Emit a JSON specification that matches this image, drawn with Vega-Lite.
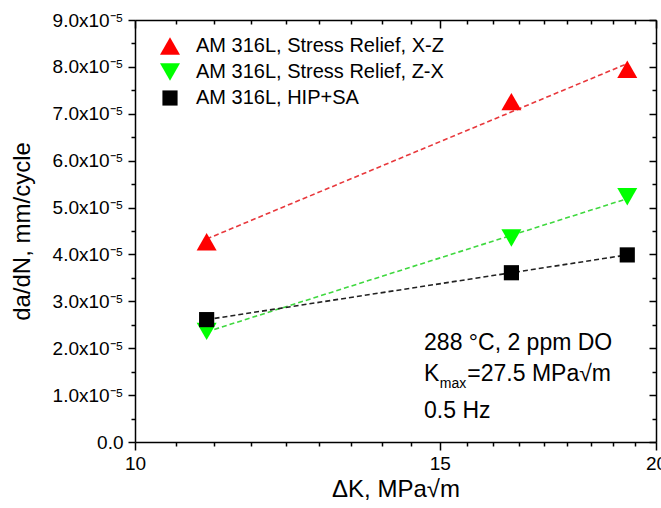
{
  "$schema": "https://vega.github.io/schema/vega-lite/v6.json",
  "width": 521,
  "height": 422,
  "autosize": "none",
  "padding": {"left": 135, "top": 20, "right": 5, "bottom": 66},
  "background": "white",
  "datasets": {
    "rates": [
      {"series": "AM 316L, Stress Relief, X-Z", "dK": 11.0, "dadN": 4.27e-5},
      {"series": "AM 316L, Stress Relief, X-Z", "dK": 16.5, "dadN": 7.26e-5},
      {"series": "AM 316L, Stress Relief, X-Z", "dK": 19.25, "dadN": 7.95e-5},
      {"series": "AM 316L, Stress Relief, Z-X", "dK": 11.0, "dadN": 2.36e-5},
      {"series": "AM 316L, Stress Relief, Z-X", "dK": 16.5, "dadN": 4.35e-5},
      {"series": "AM 316L, Stress Relief, Z-X", "dK": 19.25, "dadN": 5.23e-5},
      {"series": "AM 316L, HIP+SA", "dK": 11.0, "dadN": 2.61e-5},
      {"series": "AM 316L, HIP+SA", "dK": 16.5, "dadN": 3.61e-5},
      {"series": "AM 316L, HIP+SA", "dK": 19.25, "dadN": 3.99e-5}
    ],
    "fits": [
      {"curve": "X-Z fit", "dK": 11.0, "dadN": 4.33e-5},
      {"curve": "X-Z fit", "dK": 19.25, "dadN": 8.07e-5},
      {"curve": "Z-X fit", "dK": 11.0, "dadN": 2.35e-5},
      {"curve": "Z-X fit", "dK": 19.25, "dadN": 5.19e-5},
      {"curve": "HIP+SA fit", "dK": 11.0, "dadN": 2.61e-5},
      {"curve": "HIP+SA fit", "dK": 19.25, "dadN": 3.99e-5}
    ]
  },
  "config": {
    "view": {"stroke": null},
    "font": "Liberation Sans",
    "axis": {
      "grid": false,
      "domainColor": "black",
      "domainWidth": 1.5,
      "tickColor": "black",
      "tickWidth": 1.5,
      "labelColor": "black",
      "labelFont": "Liberation Sans",
      "labelFontSize": 19,
      "titleColor": "black",
      "titleFont": "Liberation Sans",
      "titleFontSize": 24,
      "titleFontWeight": "normal",
      "labelOverlap": false,
      "labelFlush": false
    }
  },
  "layer": [
    {
      "data": {"name": "fits"},
      "mark": {"type": "line", "strokeDash": [5, 3], "strokeWidth": 1.6},
      "encoding": {
        "x": {
          "field": "dK", "type": "quantitative",
          "scale": {"type": "log", "domain": [10, 20], "nice": false, "zero": false},
          "axis": {
            "orient": "bottom",
            "title": "ΔK, MPa√m",
            "titlePadding": 4,
            "values": [10, 10.5556, 11.1111, 11.6667, 12.2222, 12.7778, 13.3333, 13.8889, 14.4444, 15, 15.5556, 16.1111, 16.6667, 17.2222, 17.7778, 18.3333, 18.8889, 19.4444, 20],
            "labelExpr": "(datum.value == 10 || datum.value == 15 || datum.value == 20) ? format(datum.value, 'd') : ''",
            "tickSize": {"condition": {"test": "datum.value == 10 || datum.value == 15 || datum.value == 20", "value": 8}, "value": 4},
            "labelPadding": 4
          }
        },
        "y": {
          "field": "dadN", "type": "quantitative",
          "scale": {"domain": [0, 9e-5], "nice": false},
          "axis": {
            "orient": "left",
            "title": "da/dN, mm/cycle",
            "titlePadding": 18,
            "values": [0, 5e-6, 1e-5, 1.5e-5, 2e-5, 2.5e-5, 3e-5, 3.5e-5, 4e-5, 4.5e-5, 5e-5, 5.5e-5, 6e-5, 6.5e-5, 7e-5, 7.5e-5, 8e-5, 8.5e-5, 9e-5],
            "labelExpr": "round(datum.value * 2e5) % 2 == 0 ? (datum.value == 0 ? '0.0' : format(datum.value * 1e5, '.1f') + 'x10⁻⁵') : ''",
            "tickSize": {"condition": {"test": "round(datum.value * 2e5) % 2 == 0", "value": 7}, "value": 4},
            "labelPadding": 5
          }
        },
        "stroke": {
          "field": "curve", "type": "nominal",
          "scale": {
            "domain": ["X-Z fit", "Z-X fit", "HIP+SA fit"],
            "range": ["#e8383c", "#3fd83f", "#222222"]
          },
          "legend": null
        }
      }
    },
    {
      "data": {"name": "rates"},
      "mark": {"type": "point", "filled": true, "opacity": 1, "strokeWidth": 0},
      "encoding": {
        "x": {
          "field": "dK", "type": "quantitative",
          "axis": {
            "orient": "top",
            "title": null,
            "labels": false,
            "values": [10, 10.5556, 11.1111, 11.6667, 12.2222, 12.7778, 13.3333, 13.8889, 14.4444, 15, 15.5556, 16.1111, 16.6667, 17.2222, 17.7778, 18.3333, 18.8889, 19.4444, 20],
            "tickSize": {"condition": {"test": "datum.value == 10 || datum.value == 15 || datum.value == 20", "value": -8}, "value": -4}
          }
        },
        "y": {
          "field": "dadN", "type": "quantitative",
          "axis": {
            "orient": "right",
            "title": null,
            "labels": false,
            "values": [0, 5e-6, 1e-5, 1.5e-5, 2e-5, 2.5e-5, 3e-5, 3.5e-5, 4e-5, 4.5e-5, 5e-5, 5.5e-5, 6e-5, 6.5e-5, 7e-5, 7.5e-5, 8e-5, 8.5e-5, 9e-5],
            "tickSize": {"condition": {"test": "round(datum.value * 2e5) % 2 == 0", "value": -7}, "value": -4}
          }
        },
        "color": {
          "field": "series", "type": "nominal",
          "scale": {
            "domain": ["AM 316L, Stress Relief, X-Z", "AM 316L, Stress Relief, Z-X", "AM 316L, HIP+SA"],
            "range": ["#ff0000", "#00ff00", "#000000"]
          },
          "legend": {
            "orient": "none",
            "legendX": 25,
            "legendY": 16,
            "title": null,
            "padding": 0,
            "labelFont": "Liberation Sans",
            "labelFontSize": 20,
            "labelColor": "black",
            "labelLimit": 400,
            "labelOffset": 16,
            "symbolStrokeWidth": 0,
            "rowPadding": 6
          }
        },
        "shape": {
          "field": "series", "type": "nominal",
          "scale": {
            "domain": ["AM 316L, Stress Relief, X-Z", "AM 316L, Stress Relief, Z-X", "AM 316L, HIP+SA"],
            "range": ["triangle-up", "triangle-down", "square"]
          }
        },
        "size": {
          "field": "series", "type": "nominal",
          "scale": {
            "type": "ordinal",
            "domain": ["AM 316L, Stress Relief, X-Z", "AM 316L, Stress Relief, Z-X", "AM 316L, HIP+SA"],
            "range": [400, 400, 230]
          }
        }
      }
    },
    {
      "data": {"values": [{}]},
      "mark": {"type": "text", "align": "left", "baseline": "alphabetic", "fontSize": 23, "font": "Liberation Sans", "color": "black"},
      "encoding": {
        "x": {"datum": 14.69, "type": "quantitative", "axis": null},
        "y": {"datum": 1.957e-5, "type": "quantitative", "axis": null},
        "text": {"value": "288 °C, 2 ppm DO"}
      }
    },
    {
      "data": {"values": [{}]},
      "mark": {"type": "text", "align": "left", "baseline": "alphabetic", "fontSize": 23, "font": "Liberation Sans", "color": "black"},
      "encoding": {
        "x": {"datum": 14.69, "type": "quantitative", "axis": null},
        "y": {"datum": 1.295e-5, "type": "quantitative", "axis": null},
        "text": {"value": "K"}
      }
    },
    {
      "data": {"values": [{}]},
      "mark": {"type": "text", "align": "left", "baseline": "alphabetic", "fontSize": 14, "font": "Liberation Sans", "color": "black"},
      "encoding": {
        "x": {"datum": 15.0, "type": "quantitative", "axis": null},
        "y": {"datum": 1.146e-5, "type": "quantitative", "axis": null},
        "text": {"value": "max"}
      }
    },
    {
      "data": {"values": [{}]},
      "mark": {"type": "text", "align": "left", "baseline": "alphabetic", "fontSize": 23, "font": "Liberation Sans", "color": "black"},
      "encoding": {
        "x": {"datum": 15.56, "type": "quantitative", "axis": null},
        "y": {"datum": 1.295e-5, "type": "quantitative", "axis": null},
        "text": {"value": "=27.5 MPa√m"}
      }
    },
    {
      "data": {"values": [{}]},
      "mark": {"type": "text", "align": "left", "baseline": "alphabetic", "fontSize": 23, "font": "Liberation Sans", "color": "black"},
      "encoding": {
        "x": {"datum": 14.69, "type": "quantitative", "axis": null},
        "y": {"datum": 0.506e-5, "type": "quantitative", "axis": null},
        "text": {"value": "0.5 Hz"}
      }
    }
  ],
  "resolve": {"axis": {"x": "independent", "y": "independent"}}
}
